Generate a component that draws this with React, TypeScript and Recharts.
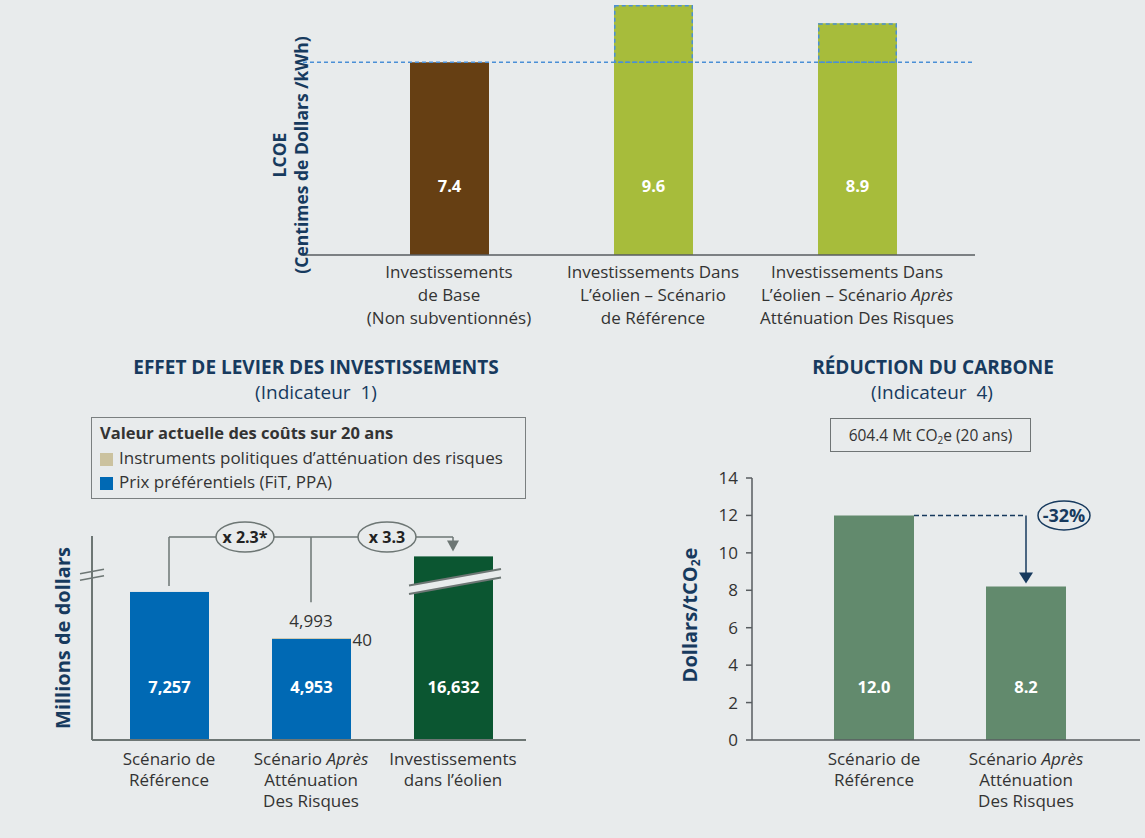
import React from 'react';
import { BarChart, Bar, XAxis, YAxis, ReferenceLine, LabelList, Cell } from 'recharts';

const BG = '#e8ebec';
const NAVY = '#173a5e';
const INK = '#333333';
const GRAY = '#6d7674';
const DASH_BLUE = '#4a8fd6';
const FONT = '"Open Sans", "Noto Sans", sans-serif';

// LCOE (top chart)
const lcoeCategories = ['base', 'eolienRef', 'eolienApres'];
const lcoeLabels = [
  ['Investissements', 'de Base', '(Non subventionnés)'],
  ['Investissements Dans', 'L’éolien – Scénario', 'de Référence'],
  ['Investissements Dans', 'L’éolien – Scénario *Après*', 'Atténuation Des Risques'],
];
const lcoeValues = [7.4, 9.6, 8.9];
const lcoeColors = ['#663f13', '#a7bc3b', '#a7bc3b'];
const lcoeReference = 7.4;

// Effet de levier des investissements (bottom left)
const levierCategories = ['ref', 'apres', 'eolien'];
const levierLabels = [
  ['Scénario de', 'Référence'],
  ['Scénario *Après*', 'Atténuation', 'Des Risques'],
  ['Investissements', 'dans l’éolien'],
];
const prixValues = [7257, 4953, 16632];
const instrumentValues = [0, 40, 0];
const levierColors = ['#0069b4', '#0069b4', '#0b5631'];
const levierAxisBreak = 9000; // bars above this are drawn broken
const levierMax = 10000;
const levierBracketAt = 9950;

// Réduction du carbone (bottom right)
const carbonCategories = ['ref', 'apres'];
const carbonLabels = [
  ['Scénario de', 'Référence'],
  ['Scénario *Après*', 'Atténuation', 'Des Risques'],
];
const carbonValues = [12.0, 8.2];
const carbonTicks = [0, 2, 4, 6, 8, 10, 12, 14];

const lcoeData = lcoeCategories.map((name, i) => ({ name, value: lcoeValues[i] }));
const levierData = levierCategories.map((name, i) => ({
  name,
  prix: prixValues[i],
  shown: Math.min(prixValues[i], levierAxisBreak),
  instr: instrumentValues[i],
  total: prixValues[i] + instrumentValues[i],
}));
const carbonData = carbonCategories.map((name, i) => ({ name, value: carbonValues[i] }));

const toLookup = (keys: string[], lines: string[][]) =>
  Object.fromEntries(keys.map((k, i) => [k, lines[i]])) as Record<string, string[]>;

function splitItalic(line: string) {
  return line
    .split('*')
    .map((text, i) => ({ text, italic: i % 2 === 1 }))
    .filter((s) => s.text.length > 0);
}

function CategoryTick(props: any) {
  const { x, y, payload, lines, offset, lineHeight, fontSize } = props;
  const rows: string[] = lines[payload.value] || [];
  return (
    <text x={x} y={y + offset} textAnchor="middle" fill={INK} fontSize={fontSize} fontFamily={FONT}>
      {rows.map((row, i) => (
        <tspan key={i} x={x} dy={i === 0 ? 0 : lineHeight}>
          {splitItalic(row).map((seg, j) => (
            <tspan key={j} fontStyle={seg.italic ? 'italic' : 'normal'}>
              {seg.text}
            </tspan>
          ))}
        </tspan>
      ))}
    </text>
  );
}

const innerLabel = (fromBottom: number, fmt: (v: number) => string) => (props: any) => {
  const { x, y, width, height, value } = props;
  return (
    <text
      x={x + width / 2}
      y={y + height - fromBottom}
      textAnchor="middle"
      dominantBaseline="central"
      fill="#ffffff"
      fontWeight={700}
      fontSize={16.5}
      fontFamily={FONT}
    >
      {fmt(Number(value))}
    </text>
  );
};

function LcoeBarShape(props: any) {
  const { x, y, width, height, fill, payload } = props;
  const v = payload.value;
  const refY = y + height - (height * lcoeReference) / v;
  return (
    <g>
      <rect x={x} y={y} width={width} height={height} fill={fill} />
      {v > lcoeReference && (
        <rect
          x={x + 0.75}
          y={y + 0.75}
          width={width - 1.5}
          height={refY - y - 0.75}
          fill="none"
          stroke={DASH_BLUE}
          strokeWidth={1.5}
          strokeDasharray="4 3"
        />
      )}
    </g>
  );
}

function LevierBarShape(props: any) {
  const { x, y, width, height, fill, payload } = props;
  const broken = payload.prix > payload.shown;
  const l = x - 5;
  const r = x + width + 8;
  return (
    <g>
      <rect x={x} y={y} width={width} height={height} fill={fill} />
      {broken && (
        <g>
          <polygon points={`${l},${y + 29} ${r},${y + 12.5} ${r},${y + 21} ${l},${y + 37.5}`} fill={BG} />
          <line x1={l} y1={y + 29} x2={r} y2={y + 12.5} stroke={GRAY} strokeWidth={2} />
          <line x1={l} y1={y + 37.5} x2={r} y2={y + 21} stroke={GRAY} strokeWidth={2} />
        </g>
      )}
    </g>
  );
}

function AxisBreakTick(props: any) {
  const { x, y } = props;
  return (
    <g>
      <line x1={x - 12} y1={y - 1} x2={x + 12} y2={y - 5.5} stroke={GRAY} strokeWidth={1.5} />
      <line x1={x - 12} y1={y + 5.5} x2={x + 12} y2={y + 1} stroke={GRAY} strokeWidth={1.5} />
    </g>
  );
}

const bracketLine = (startGap: number) => (p: any) => (
  <line x1={p.x1} y1={p.y1 - startGap} x2={p.x2} y2={p.y2} stroke={GRAY} strokeWidth={1.5} />
);

// vertical bracket above the stacked bar, with its total and the small segment value
const stackedBracket = (startGap: number, barHalf: number, total: number, small: number) => (p: any) => (
  <g fontFamily={FONT} fontSize={17} fill={INK}>
    <line x1={p.x1} y1={p.y1 - startGap} x2={p.x2} y2={p.y2} stroke={GRAY} strokeWidth={1.5} />
    <text x={p.x1} y={p.y1 - 18} textAnchor="middle" dominantBaseline="central">
      {total.toLocaleString('en-US')}
    </text>
    <text x={p.x1 + barHalf + 2} y={p.y1 + 1} dominantBaseline="central">
      {small.toLocaleString('en-US')}
    </text>
  </g>
);

const ovalSegment = (text: string) => (p: any) => {
  const cx = (p.x1 + p.x2) / 2 + 5;
  const cy = p.y1;
  return (
    <g>
      <line x1={p.x1} y1={p.y1} x2={p.x2} y2={p.y2} stroke={GRAY} strokeWidth={1.5} />
      <ellipse cx={cx} cy={cy} rx={29} ry={15} fill={BG} stroke={GRAY} strokeWidth={1.5} />
      <text x={cx} y={cy} textAnchor="middle" dominantBaseline="central" fontFamily={FONT} fontWeight={700} fontSize={16} fill="#222">
        {text}
      </text>
    </g>
  );
};

const arrowDown = (color: string, tipGap: number, w: number, h: number) => (p: any) => {
  const tipY = p.y2 - tipGap;
  return (
    <g>
      <line x1={p.x1} y1={p.y1} x2={p.x2} y2={tipY - h + 1} stroke={color} strokeWidth={1.5} />
      <polygon points={`${p.x2 - w / 2},${tipY - h} ${p.x2 + w / 2},${tipY - h} ${p.x2},${tipY}`} fill={color} />
    </g>
  );
};

const carbonDashed = (barHalf: number) => (p: any) => (
  <line x1={p.x1 + barHalf} y1={p.y1} x2={p.x2} y2={p.y2} stroke={NAVY} strokeWidth={1.5} strokeDasharray="5 3" />
);

const carbonArrow = (text: string) => (p: any) => {
  const base = arrowDown(NAVY, 3, 14, 11)(p);
  const cx = p.x1 + 38;
  const cy = p.y1;
  return (
    <g>
      {base}
      <ellipse cx={cx} cy={cy} rx={26} ry={14.5} fill={BG} stroke={NAVY} strokeWidth={1.5} />
      <text x={cx} y={cy} textAnchor="middle" dominantBaseline="central" fontFamily={FONT} fontWeight={700} fontSize={18} fill={NAVY}>
        {text}
      </text>
    </g>
  );
};

const ratio1 = `x ${(prixValues[2] / prixValues[0]).toFixed(1)}*`;
const ratio2 = `x ${(prixValues[2] / (prixValues[1] + instrumentValues[1])).toFixed(1)}`;
const reduction = `${Math.round(((carbonValues[1] - carbonValues[0]) / carbonValues[0]) * 100)}%`;

const centered = (cx: number, cy: number): React.CSSProperties => ({
  position: 'absolute',
  left: cx,
  top: cy,
  transform: 'translate(-50%, -50%)',
  whiteSpace: 'nowrap',
});

const rotated = (cx: number, cy: number): React.CSSProperties => ({
  ...centered(cx, cy),
  transform: 'translate(-50%, -50%) rotate(-90deg)',
  color: NAVY,
  fontWeight: 700,
  textAlign: 'center',
});

export default function App() {
  return (
    <div
      style={{
        position: 'absolute',
        left: 0,
        top: 0,
        width: 1145,
        height: 838,
        background: BG,
        fontFamily: FONT,
        overflow: 'hidden',
      }}
    >
      {/* LCOE */}
      <div style={{ position: 'absolute', left: 0, top: 0 }}>
        <BarChart width={1145} height={335} data={lcoeData} margin={{ top: 5, right: 170, left: 303, bottom: 5 }}>
          <XAxis
            dataKey="name"
            height={75}
            interval={0}
            padding={{ left: 44, right: 16 }}
            axisLine={{ stroke: '#585d60', strokeWidth: 1.5 }}
            tickLine={false}
            tickSize={0}
            tickMargin={0}
            tick={<CategoryTick lines={toLookup(lcoeCategories, lcoeLabels)} offset={23} lineHeight={23} fontSize={17} />}
          />
          <YAxis hide domain={[0, 9.6]} />
          <Bar dataKey="value" barSize={79} shape={LcoeBarShape} isAnimationActive={false}>
            {lcoeData.map((d, i) => (
              <Cell key={d.name} fill={lcoeColors[i]} />
            ))}
            <LabelList dataKey="value" content={innerLabel(70, (v) => v.toFixed(1))} />
          </Bar>
          <ReferenceLine y={lcoeReference} stroke={DASH_BLUE} strokeWidth={1.5} strokeDasharray="4 3" />
        </BarChart>
      </div>
      <div style={{ ...rotated(290, 155), fontSize: 17.5, lineHeight: '22px' }}>
        LCOE
        <br />
        (Centimes de Dollars /kWh)
      </div>

      {/* Effet de levier */}
      <div style={{ ...centered(316, 367), color: NAVY, fontWeight: 700, fontSize: 19 }}>
        EFFET DE LEVIER DES INVESTISSEMENTS
      </div>
      <div style={{ ...centered(316, 392), color: NAVY, fontSize: 19 }}>(Indicateur&nbsp; 1)</div>
      <div
        style={{
          position: 'absolute',
          left: 91,
          top: 417,
          width: 435,
          height: 82,
          border: '1.5px solid #7a7f80',
          boxSizing: 'border-box',
          color: INK,
          fontSize: 17,
        }}
      >
        <div style={{ position: 'absolute', left: 8, top: 3, fontWeight: 700, fontSize: 16.5 }}>
          Valeur actuelle des coûts sur 20 ans
        </div>
        <div style={{ position: 'absolute', left: 8, top: 35, width: 13, height: 13, background: '#cbc29f' }} />
        <div style={{ position: 'absolute', left: 27, top: 28 }}>Instruments politiques d’atténuation des risques</div>
        <div style={{ position: 'absolute', left: 8, top: 59, width: 13, height: 13, background: '#0069b4' }} />
        <div style={{ position: 'absolute', left: 27, top: 52 }}>Prix préférentiels (FiT, PPA)</div>
      </div>
      <div style={{ position: 'absolute', left: 0, top: 500 }}>
        <BarChart width={560} height={330} data={levierData} margin={{ top: 36, right: 34, left: 0, bottom: 0 }}>
          <XAxis
            dataKey="name"
            height={90}
            interval={0}
            padding={{ left: 6, right: 2 }}
            axisLine={{ stroke: GRAY, strokeWidth: 2 }}
            tickLine={false}
            tickSize={0}
            tickMargin={0}
            tick={<CategoryTick lines={toLookup(levierCategories, levierLabels)} offset={25} lineHeight={21} fontSize={17} />}
          />
          <YAxis
            width={92}
            domain={[0, levierMax]}
            allowDataOverflow
            ticks={[8100]}
            tick={<AxisBreakTick />}
            tickLine={false}
            tickSize={0}
            tickMargin={0}
            axisLine={{ stroke: GRAY, strokeWidth: 2 }}
          />
          <Bar dataKey="shown" stackId="a" barSize={79} shape={LevierBarShape} isAnimationActive={false}>
            {levierData.map((d, i) => (
              <Cell key={d.name} fill={levierColors[i]} />
            ))}
            <LabelList dataKey="prix" content={innerLabel(54, (v) => v.toLocaleString('en-US'))} />
          </Bar>
          <Bar dataKey="instr" stackId="a" barSize={79} fill="#cbc29f" isAnimationActive={false} />
          <ReferenceLine
            ifOverflow="visible"
            segment={[{ x: 'ref', y: levierData[0].total }, { x: 'ref', y: levierBracketAt }]}
            shape={bracketLine(6)}
          />
          <ReferenceLine
            ifOverflow="visible"
            segment={[{ x: 'apres', y: levierData[1].total }, { x: 'apres', y: levierBracketAt }]}
            shape={stackedBracket(36, 39.5, levierData[1].total, levierData[1].instr)}
          />
          <ReferenceLine
            ifOverflow="visible"
            segment={[{ x: 'eolien', y: levierBracketAt }, { x: 'eolien', y: levierData[2].shown }]}
            shape={arrowDown(GRAY, 5, 12, 11)}
          />
          <ReferenceLine
            ifOverflow="visible"
            segment={[{ x: 'ref', y: levierBracketAt }, { x: 'apres', y: levierBracketAt }]}
            shape={ovalSegment(ratio1)}
          />
          <ReferenceLine
            ifOverflow="visible"
            segment={[{ x: 'apres', y: levierBracketAt }, { x: 'eolien', y: levierBracketAt }]}
            shape={ovalSegment(ratio2)}
          />
        </BarChart>
      </div>
      <div style={{ ...rotated(62, 638), fontSize: 20 }}>Millions de dollars</div>

      {/* Réduction du carbone */}
      <div style={{ ...centered(933, 367), color: NAVY, fontWeight: 700, fontSize: 19 }}>RÉDUCTION DU CARBONE</div>
      <div style={{ ...centered(932, 392), color: NAVY, fontSize: 19 }}>(Indicateur&nbsp; 4)</div>
      <div
        style={{
          position: 'absolute',
          left: 830,
          top: 418,
          width: 201,
          height: 34,
          border: '1.5px solid #6f7475',
          boxSizing: 'border-box',
          color: INK,
          fontSize: 15.5,
          display: 'flex',
          alignItems: 'center',
          justifyContent: 'center',
        }}
      >
        <span>
          604.4 Mt CO<sub style={{ fontSize: 10, verticalAlign: -3 }}>2</sub>e (20 ans)
        </span>
      </div>
      <div style={{ position: 'absolute', left: 600, top: 460 }}>
        <BarChart width={545} height={370} data={carbonData} margin={{ top: 18, right: 5, left: 0, bottom: 0 }}>
          <XAxis
            dataKey="name"
            height={90}
            interval={0}
            padding={{ left: 46, right: 38 }}
            axisLine={{ stroke: '#585d60', strokeWidth: 1.5 }}
            tickLine={false}
            tickSize={0}
            tickMargin={0}
            tick={<CategoryTick lines={toLookup(carbonCategories, carbonLabels)} offset={25} lineHeight={21} fontSize={17} />}
          />
          <YAxis
            width={152}
            domain={[0, 14]}
            ticks={carbonTicks}
            interval={0}
            tickSize={6}
            tickMargin={8}
            axisLine={{ stroke: '#585d60', strokeWidth: 1.5 }}
            tickLine={{ stroke: '#585d60', strokeWidth: 1.5 }}
            tick={{ fill: INK, fontSize: 17, fontFamily: FONT }}
          />
          <Bar dataKey="value" barSize={80} fill="#628a6d" isAnimationActive={false}>
            <LabelList dataKey="value" content={innerLabel(54, (v) => v.toFixed(1))} />
          </Bar>
          <ReferenceLine
            ifOverflow="visible"
            segment={[{ x: 'ref', y: carbonValues[0] }, { x: 'apres', y: carbonValues[0] }]}
            shape={carbonDashed(40)}
          />
          <ReferenceLine
            ifOverflow="visible"
            segment={[{ x: 'apres', y: carbonValues[0] }, { x: 'apres', y: carbonValues[1] }]}
            shape={carbonArrow(reduction)}
          />
        </BarChart>
      </div>
      <div style={{ ...rotated(690, 615), fontSize: 20 }}>
        Dollars/tCO<sub style={{ fontSize: 12, verticalAlign: -3 }}>2</sub>e
      </div>
    </div>
  );
}
